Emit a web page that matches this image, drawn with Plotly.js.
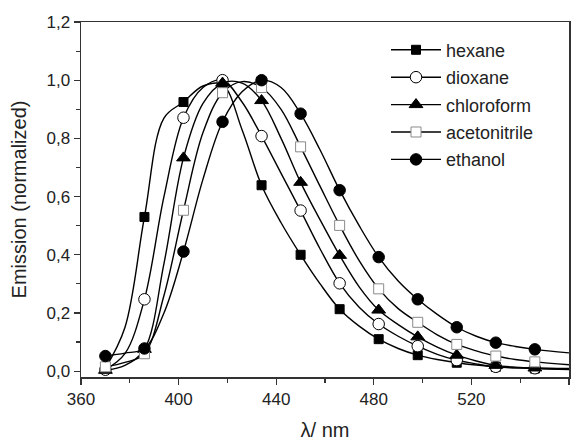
<!DOCTYPE html>
<html>
<head>
<meta charset="utf-8">
<script src="https://cdn.plot.ly/plotly-3.0.1.min.js"></script>
<style>
  html, body { margin: 0; padding: 0; background: #ffffff; }
  #chart { width: 582px; height: 441px; }
</style>
</head>
<body>
<div id="chart"></div>
<script>
// Wavelength samples along the curves (nm)
const wavelength = [370, 378, 386, 394, 402, 410, 418, 426, 434, 442, 450, 458, 466, 474, 482, 490, 498, 506, 514, 522, 530, 538, 546, 560];
// Wavelengths where a symbol is drawn
const markerWavelength = [370, 386, 402, 418, 434, 450, 466, 482, 498, 514, 530, 546];

const solvents = ["hexane", "dioxane", "chloroform", "acetonitrile", "ethanol"];

const hexane       = [0.010, 0.150, 0.530, 0.870, 0.925, 0.980, 0.985, 0.830, 0.639, 0.510, 0.400, 0.300, 0.213, 0.155, 0.110, 0.078, 0.055, 0.040, 0.029, 0.021, 0.015, 0.012, 0.009, 0.006];
const dioxane      = [0.005, 0.060, 0.247, 0.600, 0.871, 0.975, 1.000, 0.925, 0.808, 0.680, 0.552, 0.420, 0.302, 0.220, 0.162, 0.120, 0.086, 0.058, 0.038, 0.025, 0.015, 0.012, 0.010, 0.008];
const chloroform   = [0.003, 0.020, 0.075, 0.370, 0.733, 0.920, 0.990, 0.990, 0.930, 0.800, 0.649, 0.520, 0.398, 0.290, 0.210, 0.160, 0.118, 0.083, 0.055, 0.035, 0.020, 0.014, 0.011, 0.009];
const acetonitrile = [0.015, 0.030, 0.060, 0.260, 0.553, 0.820, 0.957, 0.995, 0.975, 0.900, 0.771, 0.635, 0.501, 0.380, 0.283, 0.215, 0.168, 0.125, 0.092, 0.070, 0.052, 0.040, 0.032, 0.022];
const ethanol      = [0.052, 0.062, 0.078, 0.200, 0.411, 0.660, 0.857, 0.960, 1.000, 0.975, 0.885, 0.760, 0.622, 0.500, 0.392, 0.310, 0.247, 0.195, 0.151, 0.120, 0.098, 0.085, 0.075, 0.063];

const seriesValues = [hexane, dioxane, chloroform, acetonitrile, ethanol];

const xTickVals = [360, 400, 440, 480, 520, 560];
const yTickVals = [0.0, 0.2, 0.4, 0.6, 0.8, 1.0, 1.2];

const markerStyles = [
  {symbol: "square",      size: 9,    fill: "#000000", edge: "#000000"},
  {symbol: "circle",      size: 11.5, fill: "#ffffff", edge: "#000000"},
  {symbol: "triangle-up", size: 12,   fill: "#000000", edge: "#000000"},
  {symbol: "square",      size: 10,   fill: "#ffffff", edge: "#8a8a8a"},
  {symbol: "circle",      size: 11.5, fill: "#000000", edge: "#000000"}
];

const hidden = "rgba(0,0,0,0)";

const traces = solvents.map((name, i) => {
  const st = markerStyles[i];
  const shown = wavelength.map(w => markerWavelength.includes(w));
  return {
    type: "scatter",
    mode: "lines+markers",
    name: name,
    legendgroup: name,
    x: wavelength,
    y: seriesValues[i],
    line: {color: "#000000", width: 1.4, shape: "spline", smoothing: 1},
    marker: {
      symbol: st.symbol,
      size: st.size,
      color: shown.map(s => s ? st.fill : hidden),
      line: {width: 1, color: shown.map(s => s ? st.edge : hidden)}
    },
    hoverinfo: "x+y+name"
  };
});

const fontFamily = "Liberation Sans, Arial, sans-serif";

const layout = {
  width: 582,
  height: 441,
  margin: {l: 81, r: 13, t: 22, b: 64},
  paper_bgcolor: "#ffffff",
  plot_bgcolor: "#ffffff",
  separators: ",.",
  font: {family: fontFamily, color: "#222222", size: 17},
  showlegend: true,
  legend: {
    x: 0.625, y: 0.973, xanchor: "left", yanchor: "top",
    bgcolor: "rgba(0,0,0,0)",
    font: {family: fontFamily, size: 18, color: "#222222"},
    traceorder: "grouped",
    tracegroupgap: 1,
    itemwidth: 50
  },
  xaxis: {
    range: [360, 560],
    tickvals: xTickVals,
    tickformat: "d",
    ticks: "outside",
    ticklen: 6,
    tickwidth: 1.2,
    tickcolor: "#333333",
    minor: {dtick: 20, ticks: "outside", ticklen: 4, tickwidth: 1.2, tickcolor: "#333333"},
    showline: true,
    mirror: true,
    linecolor: "#333333",
    linewidth: 1.5,
    showgrid: false,
    zeroline: false,
    tickfont: {family: fontFamily, size: 17, color: "#222222"},
    title: {text: "λ/ nm", font: {family: fontFamily, size: 20, color: "#222222"}, standoff: 17}
  },
  yaxis: {
    range: [-0.02, 1.2],
    tickvals: yTickVals,
    tickformat: ".1f",
    ticks: "outside",
    ticklen: 6,
    tickwidth: 1.2,
    tickcolor: "#333333",
    minor: {dtick: 0.1, ticks: "outside", ticklen: 4, tickwidth: 1.2, tickcolor: "#333333"},
    showline: true,
    mirror: true,
    linecolor: "#333333",
    linewidth: 1.5,
    showgrid: false,
    zeroline: false,
    tickfont: {family: fontFamily, size: 17, color: "#222222"},
    title: {text: "Emission (normalized)", font: {family: fontFamily, size: 20, color: "#222222"}, standoff: 14}
  }
};

Plotly.newPlot("chart", traces, layout, {displayModeBar: false, staticPlot: true});
</script>
</body>
</html>
